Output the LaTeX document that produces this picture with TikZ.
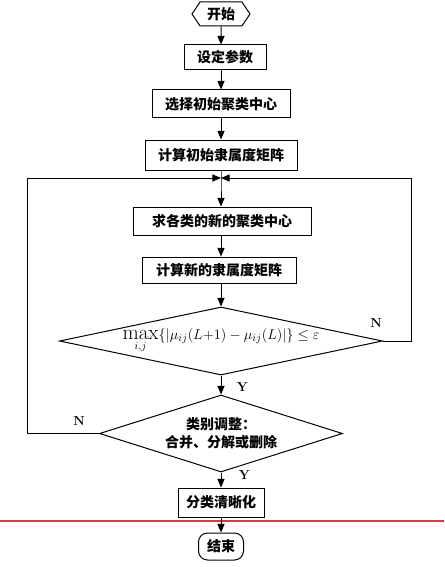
\documentclass[tikz,border=0pt]{standalone}
\usepackage{amsmath}
\usepackage{fontspec}
\newfontfamily\cjk{Noto Sans CJK SC}
\usetikzlibrary{positioning}
\usetikzlibrary{positioning, arrows}
\usetikzlibrary{shapes}
\definecolor{cutred}{RGB}{210,60,70}
\tikzset{
	stepbox/.style={draw,line width=1pt,rectangle,inner sep=0pt,font=\cjk\bfseries\fontsize{14}{17}\selectfont},
	decide/.style={draw,line width=1pt,diamond,inner sep=0pt,font=\cjk\bfseries\fontsize{14}{18}\selectfont,align=center},
	arr/.style={-triangle 45,line width=1pt},
	yn/.style={font=\bfseries\fontsize{13}{15}\selectfont}
}
\begin{document}
\begin{tikzpicture}[x=1pt,y=-1pt]
		\useasboundingbox (0,0) rectangle (444,567);
		\draw[cutred,line width=1.1pt] (0,521) -- (444,521);
		\node [draw,line width=1pt,signal,signal to=east and west,signal pointer angle=112,minimum width=58pt,minimum height=24pt,inner sep=0pt,font=\cjk\bfseries\fontsize{14}{17}\selectfont] (start) at (221,14) {开始};
		\node [stepbox,minimum width=82pt,minimum height=25pt] (param) at (225,57.5) {设定参数};
		\node [stepbox,minimum width=138pt,minimum height=28pt] (initc) at (221,104) {选择初始聚类中心};
		\node [stepbox,minimum width=152pt,minimum height=30pt] (initu) at (221,155) {计算初始隶属度矩阵};
		\coordinate (merge) at (221,178);
		\node [stepbox,minimum width=178pt,minimum height=28pt] (newc) at (222,221) {求各类的新的聚类中心};
		\node [stepbox,minimum width=154pt,minimum height=26pt] (newu) at (219,270) {计算新的隶属度矩阵};
		\node [decide,aspect=4.7,minimum width=323pt,minimum height=68pt,font=\fontsize{15}{18}\selectfont] (conv) at (221,341) {$\displaystyle\mathop{\text{\fontsize{21}{21}\selectfont max}}_{i,j}\{|\mu_{ij}(L{+}1)-\mu_{ij}(L)|\}\le\varepsilon$};
		\node [decide,aspect=3.1,minimum width=243pt,minimum height=77pt] (adjust) at (221,433.5) {类别调整：\\合并、分解或删除};
		\node [stepbox,minimum width=86pt,minimum height=29pt] (crisp) at (221,502.5) {分类清晰化};
		\node [draw,line width=1pt,rounded corners=9pt,minimum width=45pt,minimum height=27pt,inner sep=0pt,font=\cjk\bfseries\fontsize{14}{17}\selectfont] (stop) at (221,546.5) {结束};
		% main flow
		\draw[arr] (start) -- (param.north -| start);
		\draw[arr] (param.south -| start) -- (initc);
		\draw[arr] (initc) -- (initu);
		\draw[arr] (initu.south) -- (merge) -- (newc.north -| merge);
		\draw[arr] (newc.south -| merge) -- (newu.north -| merge);
		\draw[arr] (newu.south -| merge) -- (conv);
		\draw[arr] (conv) -- node[yn,right=12pt,pos=0.6] {Y} (adjust);
		\draw[arr] (adjust) -- node[yn,right=14pt,pos=0.2] {Y} (crisp);
		\draw[arr] (crisp) -- (stop);
		% loops back
		\draw[arr] (conv.east) -- ++(28,0) |- (merge);
		\draw[arr] (adjust.west) -- ++(-72,0) |- (merge);
		\node [yn] (n1) at (376,323) {N};
		\node [yn] (n2) at (79,421) {N};
	\end{tikzpicture}
\end{document}
